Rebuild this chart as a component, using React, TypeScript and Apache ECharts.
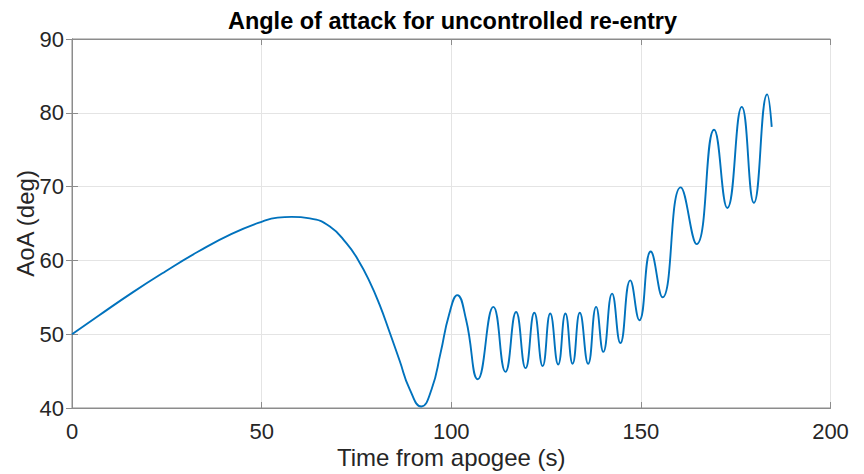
import React, { useEffect, useRef } from "react";
import * as echarts from "echarts";

const titleText = "Angle of attack for uncontrolled re-entry";
const xAxisName = "Time from apogee (s)";
const yAxisName = "AoA (deg)";

const timeValues = [
  0, 7.0, 15.8, 24.6, 33.3, 42.1, 50.3, 54.2, 57.9, 62.7, 68.0, 72.4, 75.4, 78.5,
  81.1, 83.8, 86.4, 89.0, 92.1, 94.8, 97.2, 99.4, 101.6, 103.9, 107.0, 111.1,
  114.3, 117.1, 119.6, 121.9, 124.1, 126.1, 128.2, 130.1, 132.0, 133.9, 136.1,
  138.2, 140.1, 142.4, 144.6, 147.2, 149.6, 152.6, 155.7, 160.5, 164.7, 169.3,
  172.8, 176.6, 179.8, 183.3, 184.5,
];
const aoaValues = [
  50.0, 52.5, 55.6, 58.5, 61.2, 63.6, 65.3, 65.8, 65.9, 65.7, 64.6, 62.3, 60.1, 57.1,
  54.0, 50.2, 46.4, 42.6, 40.2, 42.5, 47.5, 52.6, 55.3, 52.0, 43.9, 53.7,
  44.9, 53.0, 45.4, 52.9, 45.7, 52.8, 45.9, 52.8, 46.0, 52.9, 46.0,
  53.7, 47.6, 55.5, 48.8, 57.3, 51.9, 61.2, 55.0, 69.9, 62.2, 77.7,
  67.1, 80.8, 67.8, 82.5, 78.1,
];

const FONT = '"Liberation Sans", Arial, Helvetica, sans-serif';
const AXIS_COLOR = "#8c8c8c";
const GRID_COLOR = "#e4e4e4";
const TEXT_COLOR = "#262626";

export default function App() {
  const ref = useRef<HTMLDivElement>(null);
  useEffect(() => {
    document.body.style.margin = "0";
    const chart = echarts.init(ref.current!, null, { renderer: "svg" });
    const data = timeValues.map((t, i) => [t, aoaValues[i]]);
    const tickCommon = {
      show: true,
      inside: true,
      length: 6,
      lineStyle: { color: AXIS_COLOR, width: 1 },
    };
    chart.setOption({
      animation: false,
      backgroundColor: "#ffffff",
      grid: {
        left: 72,
        right: 33.5,
        top: 39,
        bottom: 65.7,
        show: true,
        borderColor: AXIS_COLOR,
        borderWidth: 1,
        backgroundColor: "transparent",
      },
      graphic: [
        {
          type: "text",
          x: 452.5,
          y: 21,
          style: {
            text: titleText,
            align: "center",
            verticalAlign: "middle",
            font: `bold 23.5px ${FONT}`,
            fill: "#000000",
          },
        },
      ],
      xAxis: [
        {
          type: "value",
          min: 0,
          max: 200,
          interval: 50,
          name: xAxisName,
          nameLocation: "middle",
          nameGap: 37,
          nameMoveOverlap: false,
          nameTextStyle: { fontFamily: FONT, fontSize: 24, color: TEXT_COLOR },
          axisLine: { show: true, lineStyle: { color: AXIS_COLOR } },
          axisTick: tickCommon,
          axisLabel: { margin: 12, fontFamily: FONT, fontSize: 22, color: TEXT_COLOR },
          splitLine: { show: true, lineStyle: { color: GRID_COLOR, width: 1 } },
        },
        {
          type: "value",
          position: "top",
          min: 0,
          max: 200,
          interval: 50,
          axisLine: { show: true, lineStyle: { color: AXIS_COLOR } },
          axisTick: tickCommon,
          axisLabel: { show: false },
          splitLine: { show: false },
        },
      ],
      yAxis: [
        {
          type: "value",
          min: 40,
          max: 90,
          interval: 10,
          name: yAxisName,
          nameLocation: "middle",
          nameGap: 35,
          nameMoveOverlap: false,
          nameTextStyle: { fontFamily: FONT, fontSize: 24, color: TEXT_COLOR },
          axisLine: { show: true, lineStyle: { color: AXIS_COLOR } },
          axisTick: tickCommon,
          axisLabel: { margin: 8, fontFamily: FONT, fontSize: 22, color: TEXT_COLOR },
          splitLine: { show: true, lineStyle: { color: GRID_COLOR, width: 1 } },
        },
        {
          type: "value",
          position: "right",
          min: 40,
          max: 90,
          interval: 10,
          axisLine: { show: true, lineStyle: { color: AXIS_COLOR } },
          axisTick: tickCommon,
          axisLabel: { show: false },
          splitLine: { show: false },
        },
      ],
      series: [
        {
          type: "line",
          xAxisIndex: 0,
          yAxisIndex: 0,
          data,
          smooth: 0.5,
          showSymbol: false,
          symbol: "none",
          lineStyle: { color: "#0072BD", width: 1.9 },
          z: 5,
        },
      ],
    });
    return () => chart.dispose();
  }, []);
  return (
    <div
      ref={ref}
      style={{ position: "absolute", left: 0, top: 0, width: 864, height: 474 }}
    />
  );
}
